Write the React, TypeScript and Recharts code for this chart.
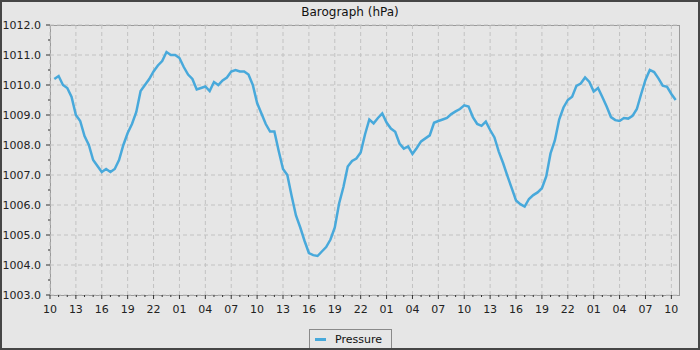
import React from "react";
import { LineChart, Line, XAxis, YAxis, CartesianGrid } from "recharts";

const START_HOUR = 0.5;
const STEP_HOURS = 0.5;

const PRESSURE = [
  1010.2, 1010.3, 1010.0, 1009.9, 1009.6, 1009.0, 1008.8, 1008.3, 1008.0, 1007.5,
  1007.3, 1007.1, 1007.2, 1007.1, 1007.2, 1007.5, 1008.0, 1008.4, 1008.7, 1009.1,
  1009.8, 1010.0, 1010.2, 1010.45, 1010.65, 1010.8, 1011.1, 1011.0, 1011.0, 1010.9,
  1010.6, 1010.35, 1010.2, 1009.85, 1009.9, 1009.95, 1009.8, 1010.1, 1010.0, 1010.15,
  1010.25, 1010.45, 1010.5, 1010.45, 1010.45, 1010.35, 1010.0, 1009.4, 1009.05, 1008.7,
  1008.45, 1008.45, 1007.8, 1007.2, 1007.0, 1006.3, 1005.65, 1005.25, 1004.8, 1004.4,
  1004.33, 1004.3, 1004.45, 1004.6, 1004.85, 1005.25, 1006.05, 1006.6, 1007.28, 1007.47,
  1007.55, 1007.75, 1008.35, 1008.85, 1008.72, 1008.9, 1009.05, 1008.75, 1008.55, 1008.44,
  1008.05, 1007.88, 1007.95, 1007.7, 1007.9, 1008.12, 1008.22, 1008.32, 1008.74, 1008.8,
  1008.85, 1008.9, 1009.03, 1009.12, 1009.2, 1009.32, 1009.28, 1008.93, 1008.7, 1008.64,
  1008.78, 1008.5, 1008.25, 1007.78, 1007.4, 1006.97, 1006.56, 1006.15, 1006.03, 1005.95,
  1006.2, 1006.33, 1006.42, 1006.56, 1006.95, 1007.72, 1008.15, 1008.85, 1009.25, 1009.5,
  1009.61, 1009.97, 1010.05, 1010.25, 1010.1, 1009.78, 1009.9, 1009.6, 1009.28, 1008.93,
  1008.83, 1008.8, 1008.9, 1008.88, 1008.97, 1009.2, 1009.7, 1010.17, 1010.5, 1010.43,
  1010.22, 1009.98, 1009.94, 1009.7, 1009.5,
];

const X_DOMAIN: [number, number] = [0, 73];
const X_MAJOR = [0, 3, 6, 9, 12, 15, 18, 21, 24, 27, 30, 33, 36, 39, 42, 45, 48, 51, 54, 57, 60, 63, 66, 69, 72];
const X_MAJOR_LABELS = [
  "10", "13", "16", "19", "22", "01", "04", "07",
  "10", "13", "16", "19", "22", "01", "04", "07",
  "10", "13", "16", "19", "22", "01", "04", "07", "10",
];
const X_ALL_TICKS = Array.from({ length: 73 }, (_, i) => i);

const Y_DOMAIN: [number, number] = [1003, 1012];
const Y_MAJOR = [1003, 1004, 1005, 1006, 1007, 1008, 1009, 1010, 1011, 1012];
const Y_MAJOR_LABELS = ["1003.0", "1004.0", "1005.0", "1006.0", "1007.0", "1008.0", "1009.0", "1010.0", "1011.0", "1012.0"];
const Y_ALL_TICKS = [
  1003, 1003.5, 1004, 1004.5, 1005, 1005.5, 1006, 1006.5, 1007, 1007.5, 1008, 1008.5,
  1009, 1009.5, 1010, 1010.5, 1011, 1011.5, 1012,
];

const SERIES_NAME = "Pressure";
const TITLE = "Barograph (hPa)";

const data = PRESSURE.map((p, i) => ({ hour: START_HOUR + i * STEP_HOURS, pressure: p }));

const FONT = "'DejaVu Sans', sans-serif";
const LINE_COLOR = "#48a9db";
const BG = "#e6e6e6";
const TICK_SIZE = 4;
const X_TICK_MARGIN = 6;
const Y_TICK_MARGIN = 5;

const XTick = (props: any) => {
  const { x, y, payload } = props;
  const v = payload.value;
  const idx = X_MAJOR.indexOf(v);
  const axisY = y - TICK_SIZE - X_TICK_MARGIN;
  const len = idx >= 0 ? 4 : 2;
  return (
    <g>
      <line x1={x} x2={x} y1={axisY} y2={axisY + len} stroke="#333" strokeWidth={1} />
      {idx >= 0 && (
        <text x={x} y={y} dy="0.71em" textAnchor="middle" fontSize={11} fontFamily={FONT} fill="#222">
          {X_MAJOR_LABELS[idx]}
        </text>
      )}
    </g>
  );
};

const YTick = (props: any) => {
  const { x, y, payload } = props;
  const v = payload.value;
  const idx = Y_MAJOR.indexOf(v);
  const axisX = x + TICK_SIZE + Y_TICK_MARGIN;
  const len = idx >= 0 ? 4 : 2;
  return (
    <g>
      <line x1={axisX - len} x2={axisX} y1={y} y2={y} stroke="#333" strokeWidth={1} />
      {idx >= 0 && (
        <text x={x} y={y} dy="0.36em" textAnchor="end" fontSize={11} fontFamily={FONT} fill="#222">
          {Y_MAJOR_LABELS[idx]}
        </text>
      )}
    </g>
  );
};

export default function App() {
  return (
    <div
      style={{
        position: "absolute",
        left: 0,
        top: 0,
        width: 700,
        height: 350,
        background: BG,
        fontFamily: FONT,
        overflow: "hidden",
      }}
    >
      <div
        style={{
          position: "absolute",
          left: 0,
          top: 0,
          width: 700,
          textAlign: "center",
          fontSize: 12,
          lineHeight: "12px",
          paddingTop: 6,
          color: "#111",
        }}
      >
        {TITLE}
      </div>
      <div
        style={{
          position: "absolute",
          left: 50,
          top: 25,
          width: 630,
          height: 271,
          boxSizing: "border-box",
          border: "1px solid #9a9a9a",
        }}
      />
      <div style={{ position: "absolute", left: 0, top: 0 }}>
        <LineChart width={700} height={350} data={data} margin={{ top: 25, right: 20, bottom: 0, left: 0 }}>
          <CartesianGrid
            stroke="#c2c2c2"
            strokeDasharray="4 3"
            verticalValues={X_MAJOR}
            horizontalValues={Y_MAJOR}
          />
          <XAxis
            dataKey="hour"
            type="number"
            domain={X_DOMAIN}
            ticks={X_ALL_TICKS}
            interval={0}
            height={55}
            tickSize={TICK_SIZE}
            tickMargin={X_TICK_MARGIN}
            tickLine={false}
            axisLine={false}
            tick={<XTick />}
            allowDataOverflow
          />
          <YAxis
            type="number"
            domain={Y_DOMAIN}
            ticks={Y_ALL_TICKS}
            interval={0}
            width={50}
            tickSize={TICK_SIZE}
            tickMargin={Y_TICK_MARGIN}
            tickLine={false}
            axisLine={false}
            tick={<YTick />}
            allowDataOverflow
          />
          <Line
            type="linear"
            dataKey="pressure"
            name={SERIES_NAME}
            stroke={LINE_COLOR}
            strokeWidth={2.5}
            dot={false}
            isAnimationActive={false}
          />
        </LineChart>
      </div>
      <div
        style={{
          position: "absolute",
          left: 309,
          top: 329,
          width: 83,
          height: 20,
          boxSizing: "border-box",
          border: "1px solid #8a8a8a",
          background: BG,
          display: "flex",
          alignItems: "center",
        }}
      >
        <div style={{ marginLeft: 5, width: 11, height: 3, background: LINE_COLOR }} />
        <span style={{ marginLeft: 9, fontSize: 11, color: "#111", lineHeight: "11px" }}>{SERIES_NAME}</span>
      </div>
      <div
        style={{
          position: "absolute",
          left: 0,
          top: 0,
          width: 700,
          height: 350,
          boxSizing: "border-box",
          border: "2px solid #464646",
          pointerEvents: "none",
        }}
      />
    </div>
  );
}
